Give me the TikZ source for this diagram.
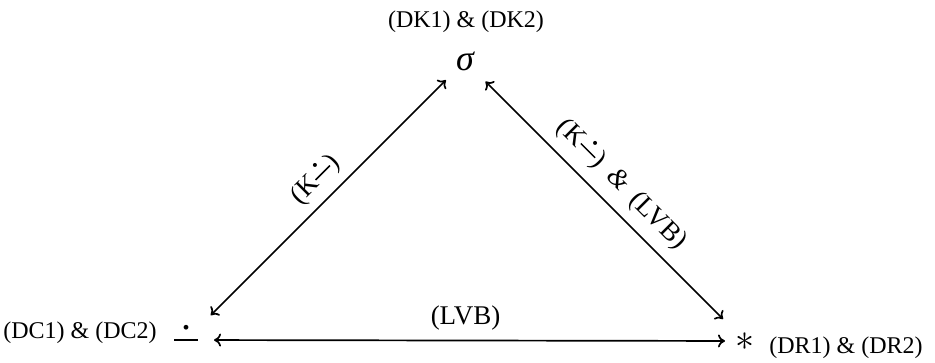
\RequirePackage{fix-cm}
\documentclass[tikz,border=0pt]{standalone}
\usepackage{fontspec}
\setmainfont{Liberation Serif}
\usetikzlibrary{arrows.meta}
\newcommand{\dminus}{\ooalign{\rule[0.23em]{0.75em}{0.055em}\cr\hidewidth\raisebox{0.58em}{\scalebox{1.25}{.}}\hidewidth\cr}}
\begin{document}
\begin{tikzpicture}[x=1pt,y=-1pt,
  arr/.style={line width=1.7pt, {Computer Modern Rightarrow[length=7pt,width=13pt]}-{Computer Modern Rightarrow[length=7pt,width=13pt]}},
  nlabel/.style={inner sep=0pt, anchor=base, font=\fontsize{24}{28}\selectfont},
  elabel/.style={inner sep=0pt, font=\fontsize{27}{30}\selectfont},
  dmstyle/.style={inner sep=0pt, text height=16pt, text depth=0pt, font=\fontsize{32}{34}\selectfont},
  aststyle/.style={inner sep=0pt, text height=19pt, text depth=0pt, font=\fontsize{38}{40}\selectfont},
  sigstyle/.style={inner sep=0pt, font=\fontsize{36}{38}\selectfont\itshape}]
\useasboundingbox (0,0) rectangle (935,362);
\node[sigstyle] (sigma) at (465,61) {σ};
\node[dmstyle] (dm) at (186,340) {\dminus};
\node[aststyle] (star) at (745,341) {$\ast$};
\node[nlabel] (lk) at (466,27) {(DK1) \& (DK2)};
\node[nlabel] (lc) at (80,338) {(DC1) \& (DC2)};
\node[nlabel] (lr) at (846,353) {(DR1) \& (DR2)};
\draw[arr, shorten <=35pt, shorten >=27pt] (dm.center) -- node[elabel, sloped, above=8pt, pos=0.52] (e1) {(K\dminus)} (sigma.center);
\draw[arr, shorten <=29pt, shorten >=31pt] (sigma.center) -- node[elabel, sloped, above=10pt] (e2) {(K\dminus)\hspace{0.45em}\textit{\&}\hspace{0.45em}(LVB)} (star.center);
\draw[arr, shorten <=28pt, shorten >=20pt] (dm.center) -- node[elabel, above=9pt] (e3) {(LVB)} (star.center);
\end{tikzpicture}
\end{document}
